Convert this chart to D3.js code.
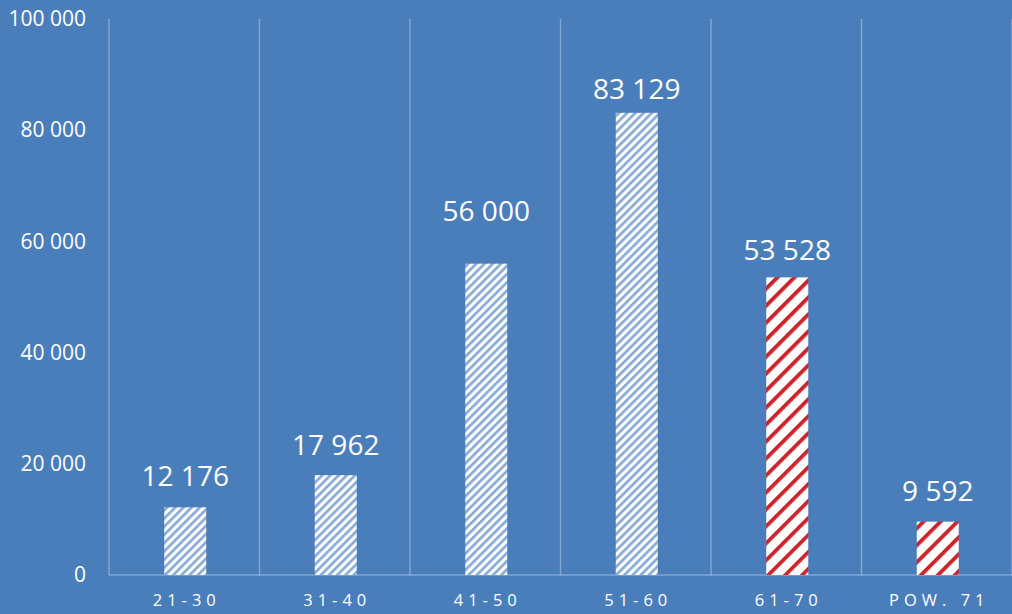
<!DOCTYPE html>
<html lang="pl">
<head>
<meta charset="UTF-8">
<title>Bar chart</title>
<script src="https://d3js.org/d3.v7.min.js"></script>
<style>
  body { margin: 0; padding: 0; background: #4a7ebb; }
  svg { display: block; font-family: 'Open Sans', 'Noto Sans', sans-serif; }
</style>
</head>
<body>
<svg id="chart" width="1012" height="614"></svg>
<script>
// chart data
const categories = ["21-30", "31-40", "41-50", "51-60", "61-70", "POW. 71"];
const values = [12176, 17962, 56000, 83129, 53528, 9592];
const patterns = ["blue", "blue", "blue", "blue", "red", "red"];
const yTicks = [0, 20000, 40000, 60000, 80000, 100000];

// labels were placed by hand in the original, so each has its own lift (px)
const labelLift = [21, 20, 43, 14, 17, 21];

const width = 1012, height = 614;
const margin = {top: 19, right: 0, bottom: 39, left: 109};

const svg = d3.select("#chart");

svg.append("rect")
    .attr("width", width).attr("height", height)
    .attr("fill", "#4a7ebb");

// hatch patterns
const defs = svg.append("defs");
function hatch(id, stripe, size, lineW) {
    const p = defs.append("pattern")
        .attr("id", id)
        .attr("patternUnits", "userSpaceOnUse")
        .attr("width", size).attr("height", size)
        .attr("patternTransform", "rotate(45)");
    p.append("rect").attr("width", size).attr("height", size).attr("fill", "#ffffff");
    p.append("rect").attr("x", 0).attr("width", lineW).attr("height", size).attr("fill", stripe);
}
hatch("hatch-blue", "#86a8d6", 5.8, 2.6);
hatch("hatch-red", "#cc2229", 12, 3.8);

const x = d3.scaleBand()
    .domain(categories)
    .range([margin.left, width - margin.right])
    .paddingInner(0)
    .paddingOuter(0);

const y = d3.scaleLinear()
    .domain([0, 100000])
    .range([height - margin.bottom, margin.top]);

const fmt = v => d3.format(",")(v).replace(/,/g, " ");

// vertical gridlines at band boundaries
const edges = categories.map(c => x(c)).concat([width - margin.right]);
svg.append("g")
    .selectAll("line")
    .data(edges)
    .join("line")
    .attr("x1", d => d).attr("x2", d => d)
    .attr("y1", y(100000)).attr("y2", y(0))
    .attr("stroke", "rgba(255,255,255,0.3)")
    .attr("stroke-width", 1.5);

// baseline
svg.append("line")
    .attr("x1", margin.left).attr("x2", width)
    .attr("y1", y(0)).attr("y2", y(0))
    .attr("stroke", "rgba(255,255,255,0.3)")
    .attr("stroke-width", 1.5);

// y axis labels
const yAxis = d3.axisLeft(y)
    .tickValues(yTicks)
    .tickFormat(fmt)
    .tickSize(0)
    .tickPadding(23);
const gy = svg.append("g")
    .attr("transform", `translate(${margin.left},0)`)
    .call(yAxis);
gy.select(".domain").remove();
gy.selectAll("text")
    .attr("fill", "#ffffff")
    .style("font-size", "21px")
    .style("font-family", "'Open Sans', 'Noto Sans', sans-serif");

// x axis labels
const xAxis = d3.axisBottom(x).tickSize(0).tickPadding(19);
const gx = svg.append("g")
    .attr("transform", `translate(0,${y(0)})`)
    .call(xAxis);
gx.select(".domain").remove();
gx.selectAll("text")
    .attr("fill", "#ffffff")
    .attr("dx", "2.5px")
    .style("font-size", "16.5px")
    .style("letter-spacing", "5px")
    .style("font-family", "'Open Sans', 'Noto Sans', sans-serif");

// bars
const barW = 42;
svg.append("g")
    .selectAll("rect")
    .data(values)
    .join("rect")
    .attr("x", (d, i) => x(categories[i]) + x.bandwidth() / 2 - barW / 2 + 1)
    .attr("y", d => y(d))
    .attr("width", barW)
    .attr("height", d => y(0) - y(d))
    .attr("fill", (d, i) => `url(#hatch-${patterns[i]})`);

// data labels
svg.append("g")
    .selectAll("text")
    .data(values)
    .join("text")
    .attr("x", (d, i) => x(categories[i]) + x.bandwidth() / 2 + 1)
    .attr("y", (d, i) => y(d) - labelLift[i])
    .attr("text-anchor", "middle")
    .attr("fill", "#ffffff")
    .style("font-size", "28px")
    .text(d => fmt(d));
</script>
</body>
</html>
